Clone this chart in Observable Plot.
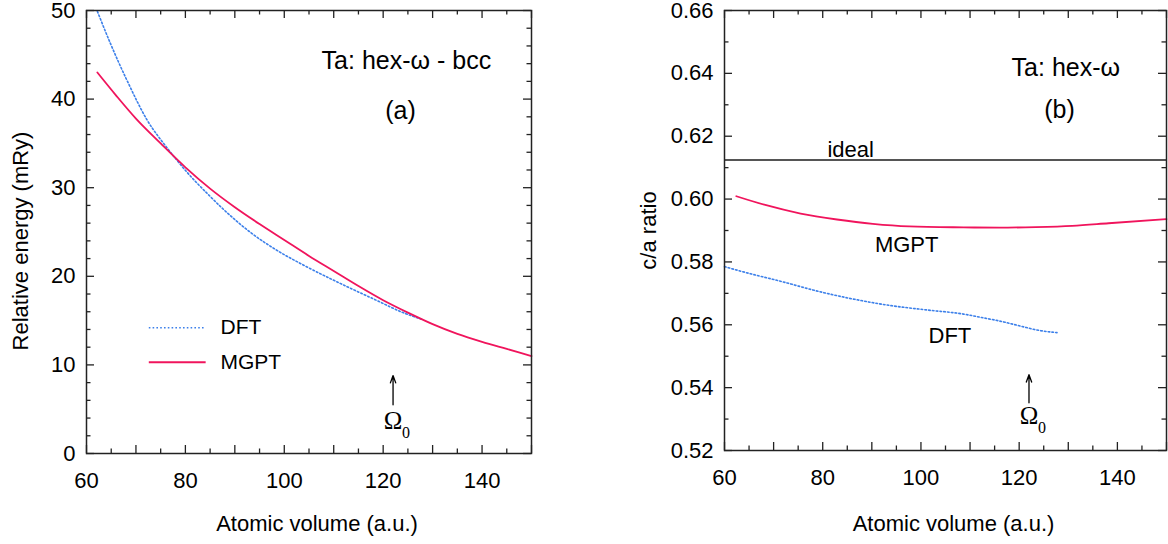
<!DOCTYPE html>
<html>
<head>
<meta charset="utf-8">
<script src="https://cdn.jsdelivr.net/npm/d3@7"></script>
<script src="https://cdn.jsdelivr.net/npm/@observablehq/plot@0.6"></script>
<style>
  body { margin: 0; background: #fff; }
  #fig { position: relative; width: 1168px; height: 544px; }
  #fig > div { position: absolute; top: 0; }
  svg { font-family: "Liberation Sans", Arial, Helvetica, sans-serif; }
</style>
</head>
<body>
<div id="fig">
  <div id="panelA" style="left:0"></div>
  <div id="panelB" style="left:584px"></div>
</div>
<script>
// ---- Panel (a): hex-omega minus bcc energy vs atomic volume ----
const dftVolA    = [62.2, 64.9, 68.2, 72.3, 76.3, 80.4, 84.5, 88.0, 93.3, 98.3, 104.1, 111.3, 118.6, 123.6, 128.0];
const dftEnergyA = [49.9, 46.2, 42.1, 37.6, 34.5, 31.7, 29.3, 27.4, 24.9, 23.0, 21.2, 19.2, 17.3, 16.0, 15.1];
const mgptVolA    = [62.2, 66, 70, 75, 80, 85, 90, 95, 100, 105, 110, 115, 120, 125, 130, 135, 140, 145, 150];
const mgptEnergyA = [43.0, 40.4, 37.8, 35.0, 32.3, 29.9, 27.8, 25.9, 24.1, 22.3, 20.6, 18.9, 17.3, 15.9, 14.6, 13.5, 12.6, 11.8, 11.0];

// ---- Panel (b): c/a ratio vs atomic volume ----
const mgptVolB   = [62.4, 68.1, 75.5, 82.9, 90.2, 97.6, 108.7, 116.0, 123.4, 130.8, 138.2, 150.0];
const mgptRatioB = [0.6009, 0.5982, 0.5954, 0.5935, 0.5921, 0.5913, 0.5910, 0.5909, 0.5911, 0.5915, 0.5923, 0.5936];
const dftVolB    = [60.0, 64.4, 71.8, 79.2, 86.5, 93.9, 101.3, 108.7, 112.4, 116.0, 120.5, 123.4, 127.7];
const dftRatioB  = [0.5785, 0.5766, 0.5737, 0.5706, 0.5681, 0.5661, 0.5647, 0.5634, 0.5623, 0.5612, 0.5595, 0.5584, 0.5575];
const idealRatio = 0.6124;
const omega0 = 122; // equilibrium volume marker

// ---- Axis ticks ----
const volLabelTicks = [60, 80, 100, 120, 140];
const volMajorTicks = d3.range(60, 151, 10);
const volMinorTicks = d3.range(65, 151, 10);
const energyLabelTicks = [0, 10, 20, 30, 40, 50];
const energyMinorTicks = d3.range(0, 51, 2).filter(v => v % 10 !== 0);
const ratioLabelTicks = [0.52, 0.54, 0.56, 0.58, 0.60, 0.62, 0.64, 0.66];
const ratioMinorTicks = [0.53, 0.55, 0.57, 0.59, 0.61, 0.63, 0.65];

const series = (xs, ys) => xs.map((x, i) => ({x, y: ys[i]}));

const MGPT_COLOR = "#f0145c";
const DFT_COLOR = "#3d80ea";
const W = 584, H = 544;

// inward ticks on all four sides of the frame
function frameTicks(xMajor, xMinor, yMajor, yMinor, fw, fh) {
  const major = 8, minor = 4.5, st = {stroke: "#222", strokeWidth: 1.3};
  return [
    Plot.tickX(xMajor, {x: d => d, insetTop: fh - major, ...st}),
    Plot.tickX(xMinor, {x: d => d, insetTop: fh - minor, ...st}),
    Plot.tickX(xMajor, {x: d => d, insetBottom: fh - major, ...st}),
    Plot.tickX(xMinor, {x: d => d, insetBottom: fh - minor, ...st}),
    Plot.tickY(yMajor, {y: d => d, insetRight: fw - major, ...st}),
    Plot.tickY(yMinor, {y: d => d, insetRight: fw - minor, ...st}),
    Plot.tickY(yMajor, {y: d => d, insetLeft: fw - major, ...st}),
    Plot.tickY(yMinor, {y: d => d, insetLeft: fw - minor, ...st})
  ];
}

function omegaMarker(yTail, yHead, yText, ySub) {
  return [
    Plot.arrow([0], {x1: omega0, x2: omega0, y1: yTail, y2: yHead, stroke: "#000", strokeWidth: 1.3, headLength: 9, headAngle: 40}),
    Plot.text(["Ω"], {x: omega0, y: yText, text: d => d, fontFamily: "Liberation Serif, DejaVu Serif, serif", fontSize: 25, fill: "#000"}),
    Plot.text(["0"], {x: omega0, y: ySub, dx: 13, text: d => d, fontFamily: "Liberation Serif, DejaVu Serif, serif", fontSize: 16, fill: "#000"})
  ];
}

const xTitle = "Atomic volume (a.u.)";

// ---------- Panel (a) ----------
{
  const mL = 86, mR = W - 531, mT = 10, mB = H - 453;
  const fw = W - mL - mR, fh = H - mT - mB;
  const chart = Plot.plot({
    width: W, height: H,
    marginLeft: mL, marginRight: mR, marginTop: mT, marginBottom: mB,
    style: {fontFamily: "Liberation Sans, Arial, Helvetica, sans-serif", color: "#000", background: "#fff", overflow: "visible"},
    x: {domain: [60, 150]},
    y: {domain: [0, 50]},
    marks: [
      Plot.line(series(dftVolA, dftEnergyA), {x: "x", y: "y", stroke: DFT_COLOR, strokeWidth: 1.6, strokeDasharray: "1.6,2.2", curve: "monotone-x"}),
      Plot.line(series(mgptVolA, mgptEnergyA), {x: "x", y: "y", stroke: MGPT_COLOR, strokeWidth: 1.8, curve: "monotone-x"}),
      ...frameTicks(volMajorTicks, volMinorTicks, energyLabelTicks, energyMinorTicks, fw, fh),
      Plot.frame({stroke: "#222", strokeWidth: 1.5}),
      Plot.axisX(volLabelTicks, {tickSize: 0, tickPadding: 19, fontSize: 22, label: null}),
      Plot.axisY(energyLabelTicks, {tickSize: 0, tickPadding: 11, fontSize: 22, label: null}),
      Plot.text([xTitle], {frameAnchor: "bottom", dx: 8, dy: 70, textAnchor: "middle", lineAnchor: "middle", text: d => d, fontSize: 22}),
      Plot.text(["Relative energy (mRy)"], {frameAnchor: "left", dx: -66, dy: 9, rotate: -90, textAnchor: "middle", lineAnchor: "middle", text: d => d, fontSize: 22}),
      Plot.text(["Ta: hex-ω - bcc"], {x: 124.7, y: 44.3, text: d => d, fontSize: 25}),
      Plot.text(["(a)"], {x: 123.5, y: 38.7, text: d => d, fontSize: 25}),
      // legend
      Plot.ruleY([14.2], {x1: 72.7, x2: 84.2, stroke: DFT_COLOR, strokeWidth: 1.6, strokeDasharray: "1.6,2.2"}),
      Plot.ruleY([10.3], {x1: 72.7, x2: 84.2, stroke: MGPT_COLOR, strokeWidth: 1.8}),
      Plot.text(["DFT"], {x: 87.1, y: 14.2, text: d => d, textAnchor: "start", fontSize: 21}),
      Plot.text(["MGPT"], {x: 87.1, y: 10.3, text: d => d, textAnchor: "start", fontSize: 21}),
      ...omegaMarker(5.5, 8.8, 3.7, 2.3)
    ]
  });
  document.getElementById("panelA").append(chart);
}

// ---------- Panel (b) ----------
{
  const mL = 724 - 584, mR = W - (1166 - 584), mT = 10, mB = H - 450;
  const fw = W - mL - mR, fh = H - mT - mB;
  const chart = Plot.plot({
    width: W, height: H,
    marginLeft: mL, marginRight: mR, marginTop: mT, marginBottom: mB,
    style: {fontFamily: "Liberation Sans, Arial, Helvetica, sans-serif", color: "#000", background: "#fff", overflow: "visible"},
    x: {domain: [60, 150]},
    y: {domain: [0.52, 0.66]},
    marks: [
      Plot.ruleY([idealRatio], {stroke: "#555", strokeWidth: 2}),
      Plot.line(series(dftVolB, dftRatioB), {x: "x", y: "y", stroke: DFT_COLOR, strokeWidth: 1.6, strokeDasharray: "1.6,2.2", curve: "monotone-x"}),
      Plot.line(series(mgptVolB, mgptRatioB), {x: "x", y: "y", stroke: MGPT_COLOR, strokeWidth: 1.8, curve: "monotone-x"}),
      ...frameTicks(volMajorTicks, volMinorTicks, ratioLabelTicks, ratioMinorTicks, fw, fh),
      Plot.frame({stroke: "#222", strokeWidth: 1.5}),
      Plot.axisX(volLabelTicks, {tickSize: 0, tickPadding: 19, fontSize: 22, label: null}),
      Plot.axisY(ratioLabelTicks, {tickSize: 0, tickPadding: 11, fontSize: 22, label: null, tickFormat: d3.format(".2f")}),
      Plot.text([xTitle], {frameAnchor: "bottom", dx: 8, dy: 73, textAnchor: "middle", lineAnchor: "middle", text: d => d, fontSize: 22}),
      Plot.text(["c/a ratio"], {frameAnchor: "left", dx: -76, rotate: -90, textAnchor: "middle", lineAnchor: "middle", text: d => d, fontSize: 22}),
      Plot.text(["ideal"], {x: 85.7, y: idealRatio, dy: -3, lineAnchor: "bottom", text: d => d, fontSize: 22}),
      Plot.text(["MGPT"], {x: 97.1, y: 0.5855, text: d => d, fontSize: 22}),
      Plot.text(["DFT"], {x: 105.9, y: 0.5564, text: d => d, fontSize: 22}),
      Plot.text(["Ta: hex-ω"], {x: 129.5, y: 0.6418, text: d => d, fontSize: 25}),
      Plot.text(["(b)"], {x: 128.2, y: 0.6285, text: d => d, fontSize: 25}),
      ...omegaMarker(0.5352, 0.5441, 0.5310, 0.5272)
    ]
  });
  document.getElementById("panelB").append(chart);
}
</script>
</body>
</html>
